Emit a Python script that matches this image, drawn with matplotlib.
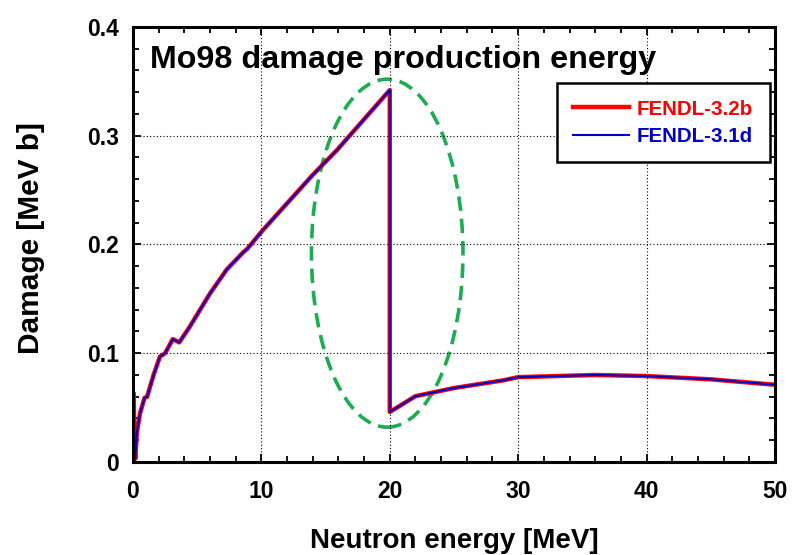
import matplotlib
matplotlib.use('Agg')
import matplotlib.pyplot as plt
from matplotlib.patches import Ellipse
from matplotlib.ticker import MultipleLocator, FuncFormatter

plt.rcParams['font.family'] = ['Liberation Sans', 'DejaVu Sans']
plt.rcParams['font.weight'] = 'bold'

# Mo98 damage production energy
energy = [0, 0.06, 0.1, 0.18, 0.3, 0.55, 0.9, 1.1, 1.6, 2.1, 2.5, 3.1, 3.6,
          4.4, 6.0, 7.3, 8.6, 8.9, 10.1, 14.0, 15.9, 20.0, 20.0, 22.0, 25.0,
          28.8, 30.0, 36.0, 40.0, 45.0, 50.0]
damage_32b = [0.0, 0.063, 0.02, 0.003, 0.027, 0.045, 0.059, 0.060, 0.080,
              0.097, 0.100, 0.113, 0.110, 0.124, 0.155, 0.177, 0.193, 0.196,
              0.213, 0.264, 0.287, 0.342, 0.046, 0.0605, 0.068, 0.075, 0.078,
              0.080, 0.079, 0.076, 0.071]
damage_31d = list(damage_32b)

fig = plt.figure(figsize=(7.94, 5.55), dpi=100)
ax = fig.add_axes([0.1675, 0.1676, 0.8085, 0.7838])

ax.plot(energy, damage_32b, color='#ff0000', lw=3.2, label='FENDL-3.2b')
ax.plot(energy, damage_31d, color='#0000cc', lw=1.5, label='FENDL-3.1d')

ell = Ellipse((19.8, 0.192), 11.8, 0.32, fill=False, edgecolor='#1aae50',
              lw=2.6, linestyle=(0, (4, 2.2)))
ax.add_patch(ell)

ax.set_xlim(0, 50)
ax.set_ylim(0, 0.4)
ax.xaxis.set_major_locator(MultipleLocator(10))
ax.xaxis.set_minor_locator(MultipleLocator(2))
ax.yaxis.set_major_locator(MultipleLocator(0.1))
ax.yaxis.set_minor_locator(MultipleLocator(0.02))
ax.yaxis.set_major_formatter(FuncFormatter(lambda v, p: '0' if abs(v) < 1e-9 else f'{v:.1f}'))
ax.tick_params(which='both', direction='in', top=True, right=True,
               labelsize=16.5, width=1.3)
ax.tick_params(which='major', length=6)
ax.tick_params(which='minor', length=4)
ax.tick_params(axis='x', which='major', pad=13)
ax.tick_params(axis='y', which='major', pad=10)
for lab in ax.get_xticklabels() + ax.get_yticklabels():
    lab.set_fontweight('bold')
for s in ax.spines.values():
    s.set_linewidth(2.2)

ax.grid(True, which='major', color='black', linestyle=(0, (1, 2)), lw=0.8)

ax.set_xlabel('Neutron energy [MeV]', fontsize=20, fontweight='bold', labelpad=18)
ax.set_ylabel('Damage [MeV b]', fontsize=21.5, fontweight='bold')
ax.yaxis.set_label_coords(-0.137, 0.515)

ax.text(0.027, 0.958, 'Mo98 damage production energy', transform=ax.transAxes,
        fontsize=23.2, fontweight='bold', va='top', ha='left')

leg = ax.legend(loc='upper right', bbox_to_anchor=(0.992, 0.871), fontsize=14.8,
                frameon=True, fancybox=False, edgecolor='black', framealpha=1,
                handlelength=2.7, handletextpad=0.4, borderpad=0.8,
                labelspacing=0.4, borderaxespad=0.0)
leg.get_frame().set_linewidth(1.8)
for txt, col in zip(leg.get_texts(), ['#ff0000', '#0000cc']):
    txt.set_color(col)
    txt.set_fontweight('bold')

fig.savefig('out.png', dpi=100)
